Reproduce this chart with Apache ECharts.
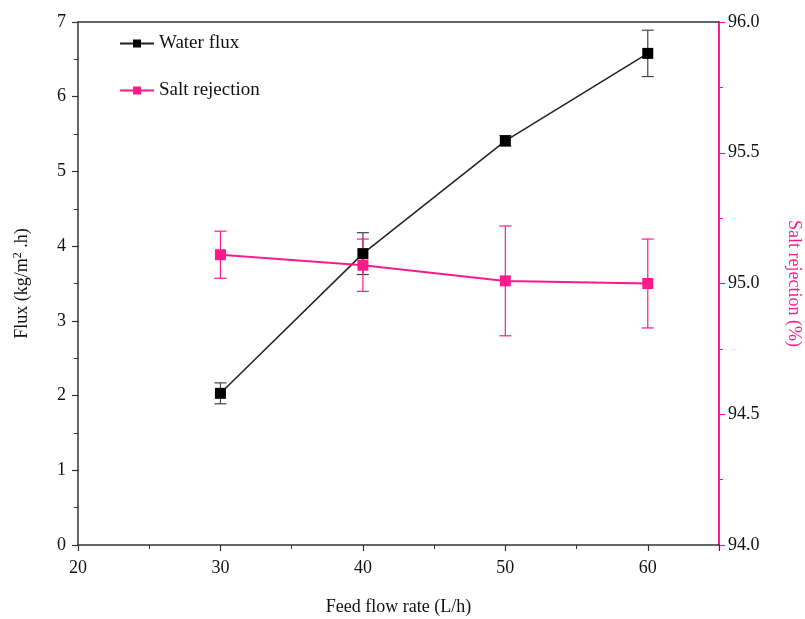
<!DOCTYPE html>
<html>
<head>
<meta charset="utf-8">
<script src="https://cdn.jsdelivr.net/npm/echarts@6/dist/echarts.min.js"></script>
<style>
  html, body { margin: 0; padding: 0; background: #fff; }
  #chart { width: 805px; height: 619px; }
</style>
</head>
<body>
<div id="chart"></div>
<script>
  // feed flow rate (L/h)
  var flowRate = [30, 40, 50, 60];
  // water flux (kg/m2.h) and its error
  var fluxValues = [2.03, 3.90, 5.41, 6.58];
  var fluxErr = [0.14, 0.28, 0.07, 0.31];
  // salt rejection (%) and its error
  var rejValues = [95.11, 95.07, 95.01, 95.00];
  var rejErr = [0.09, 0.10, 0.21, 0.17];

  var pink = '#ff1a8c';
  var font = '"Liberation Serif", "DejaVu Serif", serif';

  function pairs(xs, ys) {
    return xs.map(function (x, i) { return [x, ys[i]]; });
  }
  function bars(xs, ys, es) {
    return xs.map(function (x, i) { return [x, ys[i] - es[i], ys[i] + es[i]]; });
  }
  function errorBar(color) {
    return function (params, api) {
      var x = api.value(0);
      var top = api.coord([x, api.value(2)]);
      var bot = api.coord([x, api.value(1)]);
      var w = 6;
      var style = { stroke: color, lineWidth: 1.2 };
      return {
        type: 'group',
        children: [
          { type: 'line', shape: { x1: top[0], y1: top[1], x2: bot[0], y2: bot[1] }, style: style },
          { type: 'line', shape: { x1: top[0] - w, y1: top[1], x2: top[0] + w, y2: top[1] }, style: style },
          { type: 'line', shape: { x1: bot[0] - w, y1: bot[1], x2: bot[0] + w, y2: bot[1] }, style: style }
        ]
      };
    };
  }

  var chart = echarts.init(document.getElementById('chart'));
  chart.setOption({
    animation: false,
    textStyle: { fontFamily: font },
    grid: { left: 78, right: 86, top: 22, bottom: 74, outerBoundsMode: 'none' },
    legend: {
      orient: 'vertical',
      left: 114,
      top: 29,
      itemGap: 28,
      itemWidth: 34,
      itemHeight: 10,
      textStyle: { fontFamily: font, fontSize: 19, color: '#111' },
      data: ['Water flux', 'Salt rejection']
    },
    xAxis: [{
      type: 'value',
      min: 20, max: 65, interval: 10,
      name: 'Feed flow rate (L/h)',
      nameLocation: 'middle',
      nameGap: 53,
      nameTextStyle: { fontFamily: font, fontSize: 18, color: '#111' },
      splitLine: { show: false },
      axisLine: { lineStyle: { color: '#333', width: 1.5 } },
      axisTick: { length: 6, lineStyle: { color: '#333', width: 1.2 } },
      minorTick: { show: true, splitNumber: 2, length: 4, lineStyle: { color: '#333' } },
      axisLabel: { showMaxLabel: false, fontFamily: font, fontSize: 18, color: '#111', margin: 14 }
    }, {
      type: 'value',
      position: 'top',
      min: 20, max: 65,
      axisLine: { show: true, lineStyle: { color: '#333', width: 1.5 } },
      axisTick: { show: false },
      axisLabel: { show: false },
      splitLine: { show: false }
    }],
    yAxis: [{
      type: 'value',
      min: 0, max: 7, interval: 1,
      name: 'Flux (kg/m{sup|2} .h)',
      nameLocation: 'middle',
      nameRotate: 90,
      nameGap: 46,
      nameTextStyle: {
        fontFamily: font, fontSize: 18, color: '#111',
        rich: { sup: { fontFamily: font, fontSize: 12, verticalAlign: 'top', padding: [0, 0, 8, 0] } }
      },
      splitLine: { show: false },
      axisLine: { show: true, lineStyle: { color: '#333', width: 1.5 } },
      axisTick: { length: 6, lineStyle: { color: '#333', width: 1.2 } },
      minorTick: { show: true, splitNumber: 2, length: 4, lineStyle: { color: '#333' } },
      axisLabel: { fontFamily: font, fontSize: 18, color: '#111', margin: 12 }
    }, {
      type: 'value',
      position: 'right',
      min: 94, max: 96, interval: 0.5,
      name: 'Salt rejection (%)',
      nameLocation: 'middle',
      nameRotate: -90,
      nameGap: 66,
      nameTextStyle: { fontFamily: font, fontSize: 18, color: pink },
      splitLine: { show: false },
      axisLine: { show: true, lineStyle: { color: pink, width: 2 } },
      axisTick: { length: 6, lineStyle: { color: pink, width: 1.2 } },
      minorTick: { show: true, splitNumber: 2, length: 4, lineStyle: { color: pink } },
      axisLabel: {
        fontFamily: font, fontSize: 18, color: '#111', margin: 9,
        formatter: function (v) { return v.toFixed(1); }
      }
    }],
    series: [{
      name: 'Water flux',
      type: 'line',
      yAxisIndex: 0,
      data: pairs(flowRate, fluxValues),
      symbol: 'rect',
      symbolSize: 11,
      itemStyle: { color: '#000' },
      lineStyle: { color: '#222', width: 1.5 },
      z: 3
    }, {
      name: 'Salt rejection',
      type: 'line',
      yAxisIndex: 1,
      data: pairs(flowRate, rejValues),
      symbol: 'rect',
      symbolSize: 11,
      itemStyle: { color: pink },
      lineStyle: { color: pink, width: 2 },
      z: 4
    }, {
      type: 'custom',
      yAxisIndex: 0,
      renderItem: errorBar('#444'),
      encode: { x: 0, y: [1, 2] },
      data: bars(flowRate, fluxValues, fluxErr),
      z: 2
    }, {
      type: 'custom',
      yAxisIndex: 1,
      renderItem: errorBar(pink),
      encode: { x: 0, y: [1, 2] },
      data: bars(flowRate, rejValues, rejErr),
      z: 2
    }]
  });
</script>
</body>
</html>
